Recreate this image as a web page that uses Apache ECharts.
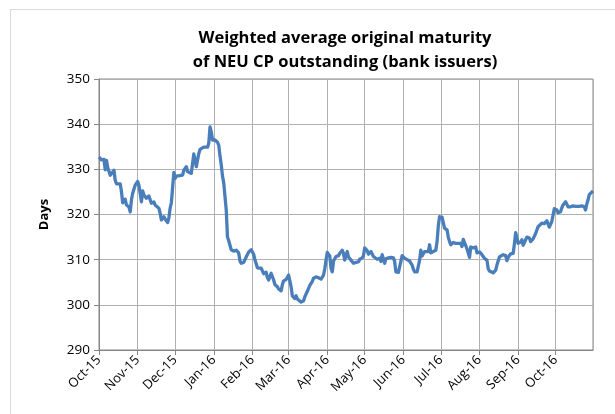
<!DOCTYPE html>
<html>
<head>
<meta charset="utf-8">
<script src="https://cdn.jsdelivr.net/npm/echarts@6/dist/echarts.min.js"></script>
<style>
  html, body { margin: 0; padding: 0; background: #ffffff; }
  #chart { width: 615px; height: 414px; }
</style>
</head>
<body>
<div id="chart"></div>
<script>
// ---- Data ----
const titleLines = ['Weighted average original maturity', 'of NEU CP outstanding (bank issuers)'];
const yAxisName = 'Days';
const monthNames = ['Jan','Feb','Mar','Apr','May','Jun','Jul','Aug','Sep','Oct','Nov','Dec'];
const axisStart = '2015-10-01';
const axisEnd = '2016-10-31';
const yTicks = [290, 300, 310, 320, 330, 340, 350];

const dates = [
  '2015-10-01','2015-10-03','2015-10-05','2015-10-06','2015-10-07','2015-10-08','2015-10-10','2015-10-13','2015-10-14','2015-10-15',
  '2015-10-18','2015-10-19','2015-10-20','2015-10-21','2015-10-22','2015-10-23','2015-10-25','2015-10-26','2015-10-27','2015-10-28',
  '2015-10-30','2015-11-01','2015-11-02','2015-11-03','2015-11-04','2015-11-05','2015-11-06','2015-11-08','2015-11-10','2015-11-12',
  '2015-11-14','2015-11-15','2015-11-18','2015-11-19','2015-11-20','2015-11-22','2015-11-23','2015-11-25','2015-11-26','2015-11-27',
  '2015-11-28','2015-11-29','2015-11-30','2015-12-01','2015-12-02','2015-12-03','2015-12-07','2015-12-08','2015-12-10','2015-12-11',
  '2015-12-12','2015-12-14','2015-12-16','2015-12-17','2015-12-18','2015-12-19','2015-12-20','2015-12-21','2015-12-22','2015-12-24',
  '2015-12-27','2015-12-28','2015-12-29','2015-12-30','2015-12-31','2016-01-02','2016-01-03','2016-01-04','2016-01-05','2016-01-06',
  '2016-01-07','2016-01-08','2016-01-09','2016-01-10','2016-01-11','2016-01-12','2016-01-13','2016-01-14','2016-01-15','2016-01-17',
  '2016-01-19','2016-01-21','2016-01-22','2016-01-23','2016-01-25','2016-01-27','2016-01-29','2016-01-31','2016-02-01','2016-02-02',
  '2016-02-03','2016-02-05','2016-02-08','2016-02-09','2016-02-10','2016-02-11','2016-02-12','2016-02-13','2016-02-14','2016-02-16',
  '2016-02-17','2016-02-18','2016-02-19','2016-02-21','2016-02-22','2016-02-24','2016-02-25','2016-02-26','2016-02-28','2016-03-01',
  '2016-03-02','2016-03-03','2016-03-04','2016-03-05','2016-03-06','2016-03-07','2016-03-08','2016-03-09','2016-03-11','2016-03-13',
  '2016-03-14','2016-03-16','2016-03-18','2016-03-20','2016-03-21','2016-03-23','2016-03-25','2016-03-27','2016-03-29','2016-03-30',
  '2016-03-31','2016-04-01','2016-04-02','2016-04-03','2016-04-04','2016-04-05','2016-04-06','2016-04-08','2016-04-10','2016-04-11',
  '2016-04-13','2016-04-14','2016-04-15','2016-04-17','2016-04-18','2016-04-20','2016-04-22','2016-04-24','2016-04-26','2016-04-27',
  '2016-04-29','2016-04-30','2016-05-01','2016-05-02','2016-05-03','2016-05-04','2016-05-06','2016-05-08','2016-05-09','2016-05-11',
  '2016-05-13','2016-05-14','2016-05-15','2016-05-17','2016-05-18','2016-05-20','2016-05-22','2016-05-24','2016-05-25','2016-05-26',
  '2016-05-28','2016-05-30','2016-05-31','2016-06-01','2016-06-02','2016-06-04','2016-06-06','2016-06-08','2016-06-09','2016-06-10',
  '2016-06-12','2016-06-14','2016-06-15','2016-06-16','2016-06-17','2016-06-18','2016-06-21','2016-06-22','2016-06-23','2016-06-25',
  '2016-06-27','2016-06-28','2016-06-29','2016-06-30','2016-07-01','2016-07-02','2016-07-03','2016-07-04','2016-07-05','2016-07-06',
  '2016-07-07','2016-07-08','2016-07-09','2016-07-10','2016-07-11','2016-07-13','2016-07-17','2016-07-18','2016-07-19','2016-07-20',
  '2016-07-22','2016-07-24','2016-07-25','2016-07-27','2016-07-29','2016-07-30','2016-07-31','2016-08-01','2016-08-03','2016-08-05',
  '2016-08-06','2016-08-07','2016-08-08','2016-08-09','2016-08-10','2016-08-12','2016-08-14','2016-08-15','2016-08-17','2016-08-20',
  '2016-08-22','2016-08-23','2016-08-24','2016-08-26','2016-08-28','2016-08-29','2016-08-30','2016-08-31','2016-09-01','2016-09-03',
  '2016-09-04','2016-09-05','2016-09-06','2016-09-07','2016-09-08','2016-09-10','2016-09-11','2016-09-13','2016-09-15','2016-09-17',
  '2016-09-18','2016-09-20','2016-09-22','2016-09-23','2016-09-24','2016-09-26','2016-09-28','2016-09-29','2016-09-30','2016-10-01',
  '2016-10-02','2016-10-03','2016-10-04','2016-10-05','2016-10-06','2016-10-07','2016-10-08','2016-10-09','2016-10-10','2016-10-11',
  '2016-10-13','2016-10-15','2016-10-17','2016-10-18','2016-10-20','2016-10-22','2016-10-24','2016-10-25','2016-10-26','2016-10-27',
  '2016-10-28','2016-10-29','2016-10-31'
];

const values = [
  332.7,332.1,332.2,329.9,332.0,330.4,328.7,329.8,327.6,326.8,
  326.8,325.1,322.6,322.3,323.4,322.1,321.7,320.6,323.2,324.7,
  326.5,327.3,326.5,324.7,322.8,325.2,324.3,323.6,324.1,322.5,
  322.8,322.1,321.4,320.3,318.8,319.5,319.0,318.2,319.2,321.4,
  322.6,322.6,329.3,328.0,328.5,328.1,328.7,329.8,330.6,329.5,
  329.3,329.1,333.4,332.1,330.6,330.2,333.5,334.4,334.7,334.9,
  334.9,335.8,339.4,338.3,336.5,336.5,336.5,336.0,335.3,333.0,
  331.0,328.5,327.0,326.8,321.0,315.0,314.2,313.8,312.2,311.9,
  312.1,311.5,309.7,309.2,309.4,310.6,311.7,312.2,312.2,311.2,
  310.0,308.2,308.1,307.8,306.9,306.6,307.2,306.0,305.5,307.0,
  307.3,305.5,304.5,304.0,303.5,303.1,304.5,305.3,305.6,306.6,
  307.0,304.0,302.0,301.6,301.4,302.0,301.3,301.0,300.6,300.9,
  301.8,303.0,304.3,305.2,305.9,306.2,306.0,305.7,306.6,308.0,
  310.0,311.6,311.8,310.8,308.1,307.3,309.7,310.7,310.9,311.4,
  312.1,311.4,309.9,311.8,310.6,309.9,309.2,309.4,309.5,310.1,
  310.4,310.9,312.6,312.4,312.0,311.2,311.8,310.7,310.8,310.1,
  310.3,309.6,311.1,309.2,310.2,310.4,310.5,310.4,309.6,307.3,
  307.2,309.6,310.9,311.0,310.3,310.0,309.7,308.8,307.9,307.3,
  307.3,309.9,312.1,310.8,311.3,311.8,311.8,313.3,311.5,311.8,
  312.1,314.0,317.5,319.5,319.6,319.4,319.0,317.0,317.2,316.6,
  315.0,314.0,313.3,313.0,313.8,313.6,313.6,312.9,314.5,313.8,
  312.4,310.5,312.8,312.6,312.8,311.5,311.8,311.7,311.1,310.3,
  310.2,309.9,308.0,307.5,307.2,307.1,307.7,308.8,310.6,311.1,
  310.9,309.8,310.5,311.3,311.4,313.5,316.0,316.4,313.6,313.9,
  314.4,313.2,313.4,314.4,315.0,314.8,314.0,314.6,315.8,317.3,
  317.6,318.1,318.0,318.4,318.6,317.2,318.5,319.9,321.3,321.7,
  321.0,320.4,320.0,320.6,321.5,322.1,322.3,322.8,322.3,321.7,
  321.7,321.9,321.8,322.1,321.8,321.9,321.7,321.0,322.3,323.2,
  324.4,324.8,325.2
];

const seriesData = dates.map((d, i) => [d, values[i]]);

const chart = echarts.init(document.getElementById('chart'), null, { renderer: 'canvas' });
const FONT = 'Open Sans';
const option = {
  animation: false,
  backgroundColor: '#ffffff',
  title: {
    text: titleLines.join('\n'),
    left: 340,
    top: 21,
    textAlign: 'center',
    textStyle: { fontFamily: FONT, fontSize: 16.5, fontWeight: 'bold', color: '#000000', lineHeight: 24 }
  },
  grid: {
    left: 99, right: 22, top: 79, bottom: 64,
    show: true, borderColor: '#868686', borderWidth: 1, backgroundColor: 'transparent'
  },
  graphic: [{
    type: 'rect',
    shape: { x: 10.5, y: 9.5, width: 640, height: 440 },
    style: { fill: 'none', stroke: '#d9d9d9', lineWidth: 1 },
    silent: true
  }],
  xAxis: {
    type: 'time',
    min: axisStart,
    max: axisEnd,
    splitNumber: 13,
    minInterval: 28 * 86400000,
    maxInterval: 31 * 86400000,
    axisLine: { show: true, lineStyle: { color: '#868686', width: 1 } },
    axisTick: { show: true, length: 5, lineStyle: { color: '#868686' } },
    splitLine: { show: true, lineStyle: { color: '#b0b0b0', width: 1 } },
    axisLabel: {
      rotate: 45,
      margin: 8,
      fontFamily: FONT,
      fontSize: 13,
      color: '#000000',
      hideOverlap: false,
      showMaxLabel: false,
      formatter: function (val) {
        const d = new Date(val);
        return monthNames[d.getMonth()] + '-' + String(d.getFullYear()).slice(2);
      }
    }
  },
  yAxis: {
    type: 'value',
    min: yTicks[0],
    max: yTicks[yTicks.length - 1],
    interval: 10,
    name: yAxisName,
    nameLocation: 'middle',
    nameRotate: 90,
    nameGap: 48,
    nameTextStyle: { fontFamily: FONT, fontSize: 13, fontWeight: 'bold', color: '#000000' },
    axisLine: { show: true, lineStyle: { color: '#868686', width: 1 } },
    axisTick: { show: true, length: 5, lineStyle: { color: '#868686' } },
    splitLine: { show: true, lineStyle: { color: '#b0b0b0', width: 1 } },
    axisLabel: { fontFamily: FONT, fontSize: 13.5, color: '#000000', margin: 9 }
  },
  series: [{
    type: 'line',
    data: seriesData,
    showSymbol: false,
    symbol: 'none',
    lineStyle: { color: '#4a7ebb', width: 3.3, join: 'round' },
    itemStyle: { color: '#4a7ebb' },
    z: 3
  }]
};
chart.setOption(option);
</script>
</body>
</html>
